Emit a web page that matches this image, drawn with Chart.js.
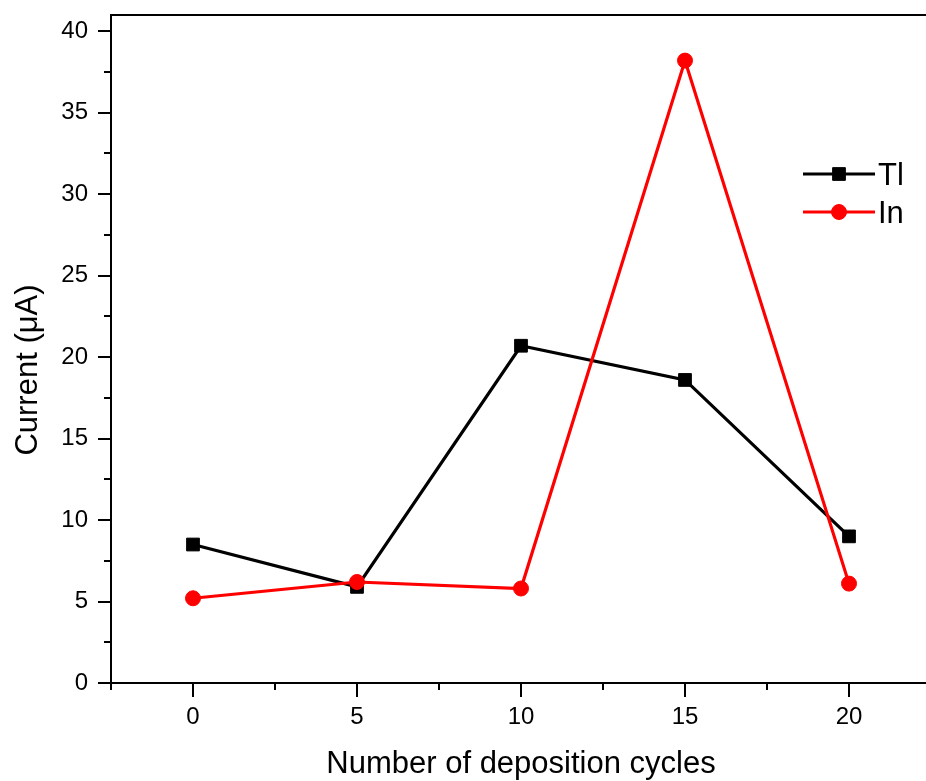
<!DOCTYPE html>
<html>
<head>
<meta charset="utf-8">
<title>Current vs deposition cycles</title>
<script src="https://cdn.jsdelivr.net/npm/chart.js@4.4.1/dist/chart.umd.min.js"></script>
<style>
  html, body { margin: 0; padding: 0; background: #fff; overflow: hidden; }
  canvas { display: block; }
</style>
</head>
<body>
<canvas id="c" width="926" height="781"></canvas>
<script>
// Number of deposition cycles
const cycles = [0, 5, 10, 15, 20];
// Peak currents (µA)
const tlCurrent = [8.5, 5.9, 20.7, 18.6, 9.0];
const inCurrent = [5.2, 6.2, 5.8, 38.2, 6.1];
// Axis ranges and label steps
const xRange = [-2.5, 22.5];
const yRange = [0, 41];
const minorStep = 2.5;
const majorStep = 5;

const FONT = "'Liberation Sans', Arial, Helvetica, sans-serif";
// the frame's right edge sits just past the canvas edge
const RIGHT_OVERHANG = 5;

const toPoints = (xs, ys) => xs.map((x, i) => ({ x: x, y: ys[i] }));
const isMajor = v => Math.abs(v % majorStep) < 1e-6;
const isMinor = v => Math.abs(v / minorStep - Math.round(v / minorStep)) < 1e-6;

// Stretch the plot area (and the x scale) a little beyond the canvas edge
const overhangPlugin = {
  id: 'overhang',
  afterLayout(chart) {
    const x = chart.scales.x;
    const right = chart.width + RIGHT_OVERHANG;
    x.right = right;
    x.width = right - x.left;
    x.configure();
    chart.chartArea.right = right;
    chart.chartArea.width = right - chart.chartArea.left;
  }
};

// Boxed axes with outward major/minor tick marks, plus axis titles
const framePlugin = {
  id: 'frame',
  beforeDatasetsDraw(chart) {
    const { ctx, chartArea: a, scales } = chart;
    ctx.save();
    ctx.strokeStyle = '#000';
    ctx.lineWidth = 2;
    ctx.strokeRect(a.left, a.top, a.right - a.left, a.bottom - a.top);
    ctx.beginPath();
    scales.x.ticks.forEach(t => {
      if (!isMinor(t.value)) return;
      const px = Math.round(scales.x.getPixelForValue(t.value));
      const len = isMajor(t.value) ? 14 : 7;
      ctx.moveTo(px, a.bottom);
      ctx.lineTo(px, a.bottom + len);
    });
    scales.y.ticks.forEach(t => {
      if (!isMinor(t.value)) return;
      const py = Math.round(scales.y.getPixelForValue(t.value));
      const len = isMajor(t.value) ? 13 : 7;
      ctx.moveTo(a.left, py);
      ctx.lineTo(a.left - len, py);
    });
    ctx.stroke();

    ctx.fillStyle = '#000';
    ctx.font = '31px ' + FONT;
    ctx.textAlign = 'center';
    ctx.textBaseline = 'alphabetic';
    ctx.fillText('Number of deposition cycles', (a.left + a.right) / 2, 773);
    ctx.save();
    ctx.translate(37, 370);
    ctx.rotate(-Math.PI / 2);
    ctx.fillText('Current (\u03bcA)', 0, 0);
    ctx.restore();
    ctx.restore();
  }
};

// Legend drawn from the dataset styles
const legendPlugin = {
  id: 'sideLegend',
  afterDatasetsDraw(chart) {
    const { ctx } = chart;
    const rows = [174, 212];
    ctx.save();
    chart.data.datasets.forEach((ds, i) => {
      const y = rows[i];
      ctx.strokeStyle = ds.borderColor;
      ctx.lineWidth = ds.borderWidth;
      ctx.beginPath();
      ctx.moveTo(803, y);
      ctx.lineTo(875, y);
      ctx.stroke();
      ctx.fillStyle = ds.pointBackgroundColor;
      ctx.strokeStyle = ds.pointBorderColor;
      ctx.lineWidth = ds.pointBorderWidth;
      Chart.helpers.drawPoint(ctx, {
        pointStyle: ds.pointStyle,
        radius: ds.pointRadius,
        borderWidth: ds.pointBorderWidth,
        rotation: 0
      }, 839, y);
      ctx.fillStyle = '#000';
      ctx.font = '31px ' + FONT;
      ctx.textAlign = 'left';
      ctx.textBaseline = 'alphabetic';
      ctx.fillText(ds.label, 878, y + 11);
    });
    ctx.restore();
  }
};

new Chart(document.getElementById('c'), {
  type: 'line',
  data: {
    datasets: [
      {
        label: 'Tl',
        data: toPoints(cycles, tlCurrent),
        borderColor: '#000000',
        backgroundColor: '#000000',
        pointBackgroundColor: '#000000',
        pointBorderColor: '#000000',
        borderWidth: 3.2,
        pointStyle: 'rect',
        pointRadius: 9,
        pointBorderWidth: 1,
        tension: 0,
        order: 1
      },
      {
        label: 'In',
        data: toPoints(cycles, inCurrent),
        borderColor: '#ff0000',
        backgroundColor: '#ff0000',
        pointBackgroundColor: '#ff0000',
        pointBorderColor: '#ff0000',
        borderWidth: 3.2,
        pointStyle: 'circle',
        pointRadius: 7.5,
        pointBorderWidth: 1,
        tension: 0,
        order: 0
      }
    ]
  },
  options: {
    responsive: false,
    animation: false,
    devicePixelRatio: 1,
    layout: {
      autoPadding: false,
      padding: { top: 15, right: 0, left: 0, bottom: 0 }
    },
    plugins: { legend: { display: false }, tooltip: { enabled: false } },
    scales: {
      x: {
        type: 'linear',
        min: xRange[0],
        max: xRange[1],
        grid: { display: false, drawTicks: false },
        border: { display: false },
        ticks: {
          stepSize: minorStep,
          includeBounds: false,
          autoSkip: false,
          maxRotation: 0,
          padding: 20,
          color: '#000',
          font: { family: FONT, size: 24 },
          callback: v => (isMajor(v) ? String(v) : '')
        },
        afterFit: s => {
          s.height = 98;
          s.paddingLeft = 0;
          s.paddingRight = 0;
        }
      },
      y: {
        type: 'linear',
        min: yRange[0],
        max: yRange[1],
        grid: { display: false, drawTicks: false },
        border: { display: false },
        ticks: {
          stepSize: minorStep,
          includeBounds: false,
          autoSkip: false,
          padding: 23,
          color: '#000',
          font: { family: FONT, size: 24 },
          callback: v => (isMajor(v) ? String(v) : '')
        },
        afterFit: s => {
          s.width = 111;
          s.paddingTop = 0;
          s.paddingBottom = 0;
        }
      }
    }
  },
  plugins: [overhangPlugin, framePlugin, legendPlugin]
});
</script>
</body>
</html>
